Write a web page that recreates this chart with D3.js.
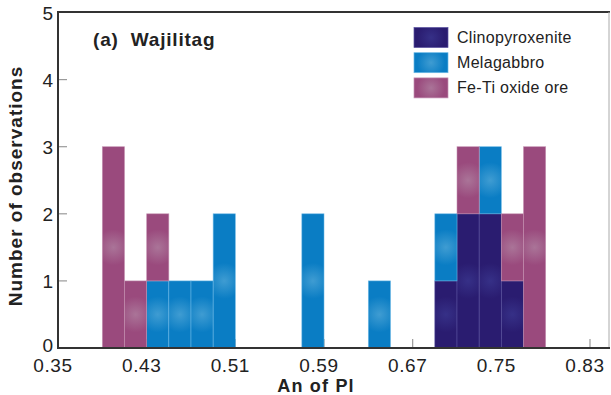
<!DOCTYPE html>
<html><head><meta charset="utf-8">
<script src="https://cdn.jsdelivr.net/npm/d3@7"></script>
<style>body{margin:0;background:#fff}svg{display:block}text{font-family:Arial,"Liberation Sans",sans-serif}</style>
</head><body>
<svg id="c" width="611" height="395"></svg>
<script>
// ---- data ----
const binWidth = 0.02;
const binStarts = [0.39, 0.41, 0.43, 0.45, 0.47, 0.49, 0.57, 0.63, 0.69, 0.71, 0.73, 0.75, 0.77];
const clinopyroxenite = [0, 0, 0, 0, 0, 0, 0, 0, 1, 2, 2, 1, 0];
const melagabbro      = [0, 0, 1, 1, 1, 2, 2, 1, 1, 0, 1, 0, 0];
const feTiOre         = [3, 1, 1, 0, 0, 0, 0, 0, 0, 1, 0, 1, 3];
const seriesNames = ["Clinopyroxenite", "Melagabbro", "Fe-Ti oxide ore"];
const xTicks = [0.35, 0.43, 0.51, 0.59, 0.67, 0.75, 0.83];
const yTicks = [0, 1, 2, 3, 4, 5];
const panelTitle = "(a)  Wajilitag";
const xTitle = "An of Pl";
const yTitle = "Number of observations";

// ---- styles ----
const colors = ["#2a1c70", "#0a7dc4", "#9a4a7d"];
const glows  = ["#363087", "#3f9cd2", "#aa7498"];
const strokes = ["#5a52a0", "#6ab8e6", "#c491b2"];

const svg = d3.select("#c");
const L = 58, R = 609, T = 12, B = 348;
const x = d3.scaleLinear().domain([0.35, 0.83]).range([L, 590]);
const y = d3.scaleLinear().domain([0, 5]).range([B, 12.5]);

const rows = binStarts.map((s, i) => ({s, v: [clinopyroxenite[i], melagabbro[i], feTiOre[i]]}));
const stack = d3.stack().keys([0, 1, 2]).value((d, k) => d.v[k])(rows);

const defs = svg.append("defs");

// ticks (behind bars)
const g = svg.append("g");
g.selectAll(".yt").data(yTicks.slice(1, 5)).join("line")
  .attr("x1", L).attr("x2", L + 9).attr("y1", d => y(d)).attr("y2", d => y(d))
  .attr("stroke", "#9a9a9a").attr("stroke-width", 1.2);
g.selectAll(".xt").data(xTicks.slice(1)).join("line")
  .attr("x1", d => x(d)).attr("x2", d => x(d)).attr("y1", B).attr("y2", B - 9)
  .attr("stroke", "#9a9a9a").attr("stroke-width", 1.2);

// bars
let gid = 0;
stack.forEach((layer, k) => {
  layer.forEach(seg => {
    const h = seg[1] - seg[0];
    if (h <= 0) return;
    const x0 = x(seg.data.s), x1 = x(seg.data.s + binWidth);
    const y0 = y(seg[1]), y1 = y(seg[0]);
    const id = "gr" + (gid++);
    const gr = defs.append("radialGradient").attr("id", id)
      .attr("gradientUnits", "userSpaceOnUse")
      .attr("cx", (x0 + x1) / 2).attr("cy", (y0 + y1) / 2).attr("r", 18);
    gr.append("stop").attr("offset", "0%").attr("stop-color", glows[k]);
    gr.append("stop").attr("offset", "100%").attr("stop-color", colors[k]);
    svg.append("rect").attr("x", x0).attr("y", y0).attr("width", x1 - x0).attr("height", y1 - y0)
      .attr("fill", `url(#${id})`).attr("stroke", strokes[k]).attr("stroke-width", 0.7).attr("stroke-opacity", 0.8);
  });
});

// frame
svg.append("line").attr("x1", L).attr("x2", R + 1).attr("y1", T).attr("y2", T).attr("stroke", "#333").attr("stroke-width", 1.8);
svg.append("line").attr("x1", R).attr("x2", R).attr("y1", T).attr("y2", B).attr("stroke", "#aaa").attr("stroke-width", 1);
svg.append("line").attr("x1", L).attr("x2", L).attr("y1", T - 1).attr("y2", B + 1).attr("stroke", "#333").attr("stroke-width", 2);
svg.append("line").attr("x1", L - 1).attr("x2", R + 1).attr("y1", B).attr("y2", B).attr("stroke", "#333").attr("stroke-width", 2);

// tick labels
svg.selectAll(".yl").data(yTicks).join("text")
  .attr("x", 53).attr("y", d => y(d) + (d === 0 ? 4 : 7)).attr("text-anchor", "end")
  .attr("font-size", 19).attr("fill", "#222").text(d => d);
svg.selectAll(".xl").data(xTicks).join("text")
  .attr("x", d => x(d) - 5).attr("y", 372).attr("text-anchor", "middle")
  .attr("font-size", 19).attr("letter-spacing", 0.6).attr("fill", "#222").text(d => d.toFixed(2));

// axis titles
svg.append("text").attr("x", 316).attr("y", 392).attr("text-anchor", "middle")
  .attr("font-size", 18).attr("font-weight", "bold").attr("letter-spacing", 1.2).attr("fill", "#222").text(xTitle);
svg.append("text").attr("transform", "translate(22,186) rotate(-90)").attr("text-anchor", "middle")
  .attr("font-size", 19).attr("font-weight", "bold").attr("letter-spacing", 1).attr("fill", "#222").text(yTitle);

// panel title
svg.append("text").attr("x", 93).attr("y", 46).attr("font-size", 19).attr("font-weight", "bold")
  .attr("letter-spacing", 0.8).attr("fill", "#222").style("white-space", "pre").text(panelTitle);

// legend
const lg = svg.append("g");
seriesNames.forEach((n, k) => {
  const yy = 27.5 + k * 25.2;
  const id = "lg" + k;
  const gr = defs.append("radialGradient").attr("id", id)
    .attr("gradientUnits", "userSpaceOnUse").attr("cx", 431).attr("cy", yy + 10).attr("r", 14);
  gr.append("stop").attr("offset", "0%").attr("stop-color", glows[k]);
  gr.append("stop").attr("offset", "100%").attr("stop-color", colors[k]);
  lg.append("rect").attr("x", 414).attr("y", yy).attr("width", 34).attr("height", 20)
    .attr("fill", `url(#${id})`).attr("stroke", strokes[k]).attr("stroke-width", 0.7);
  lg.append("text").attr("x", 457).attr("y", yy + 15.5).attr("font-size", 16)
    .attr("letter-spacing", 0.3).attr("fill", "#222").text(n);
});
</script>
</body></html>
